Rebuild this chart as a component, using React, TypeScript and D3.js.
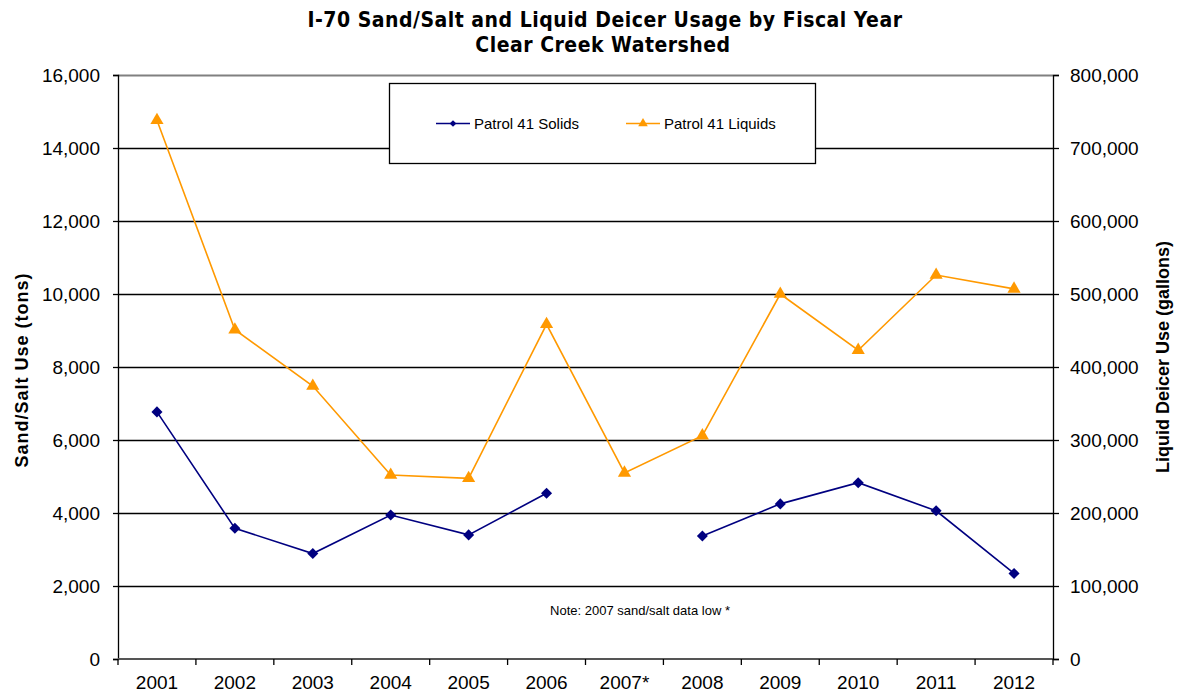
import React, { useEffect, useRef } from 'react';
import * as d3 from 'd3';

const years = ['2001', '2002', '2003', '2004', '2005', '2006', '2007*', '2008', '2009', '2010', '2011', '2012'];
// Patrol 41 Solids (tons), 2007 missing
const solids: (number | null)[] = [6770, 3580, 2890, 3945, 3400, 4540, null, 3370, 4250, 4830, 4060, 2345];
// Patrol 41 Liquids (gallons)
const liquids: number[] = [738000, 451000, 374000, 252000, 247500, 458500, 255000, 306000, 500000, 423000, 526000, 507000];
const leftTicks = [0, 2000, 4000, 6000, 8000, 10000, 12000, 14000, 16000];
const rightTicks = [0, 100000, 200000, 300000, 400000, 500000, 600000, 700000, 800000];

const W = 1179;
const H = 694;
const NAVY = '#000080';
const ORANGE = '#FF9900';
const FONT = 'Arial, "Liberation Sans", sans-serif';

const App = () => {
  const ref = useRef<SVGSVGElement>(null);

  useEffect(() => {
    const svg = d3.select(ref.current);
    svg.selectAll('*').remove();

    const margin = { top: 75, right: 126, bottom: 35, left: 118 };
    const x = d3.scaleBand().domain(years).range([margin.left, W - margin.right]);
    const yL = d3.scaleLinear().domain([0, 16000]).range([H - margin.bottom, margin.top]);
    const yR = d3.scaleLinear().domain([0, 800000]).range([H - margin.bottom, margin.top]);
    const cx = (d: string) => (x(d) as number) + x.bandwidth() / 2;
    const x0 = margin.left;
    const x1 = W - margin.right;

    svg.append('rect').attr('width', W).attr('height', H).attr('fill', '#fff');

    // Title
    const title = svg.append('text')
      .attr('text-anchor', 'middle')
      .style('font-family', '"DejaVu Sans Condensed", "DejaVu Sans", sans-serif')
      .style('font-weight', 'bold')
      .style('font-size', '21px')
      .style('letter-spacing', '0.5px');
    title.append('tspan').attr('x', 605).attr('y', 27).text('I-70 Sand/Salt and Liquid Deicer Usage by Fiscal Year');
    title.append('tspan').attr('x', 603).attr('y', 52).text('Clear Creek Watershed');

    // Gridlines
    svg.append('g')
      .selectAll('line')
      .data(leftTicks.filter(t => t > 0))
      .enter()
      .append('line')
      .attr('x1', x0)
      .attr('x2', x1)
      .attr('y1', d => Math.round(yL(d)) + 0.5)
      .attr('y2', d => Math.round(yL(d)) + 0.5)
      .attr('stroke', d => (d === 16000 ? '#808080' : '#000'))
      .attr('stroke-width', d => (d === 16000 ? 2 : 1.3));

    // Left axis
    const gl = svg.append('g').attr('transform', `translate(${x0},0)`)
      .call(d3.axisLeft(yL).tickValues(leftTicks).tickFormat(d3.format(',')).tickSize(5).tickPadding(13));
    gl.select('.domain').attr('stroke', '#000').attr('stroke-width', 1.3);
    gl.selectAll('.tick line').attr('stroke', '#000').attr('stroke-width', 1.3);
    gl.selectAll('text').style('font-family', FONT).style('font-size', '19px').attr('fill', '#000');

    // Right axis
    const gr = svg.append('g').attr('transform', `translate(${x1},0)`)
      .call(d3.axisRight(yR).tickValues(rightTicks).tickFormat(d3.format(',')).tickSize(6).tickPadding(11));
    gr.select('.domain').attr('stroke', '#000').attr('stroke-width', 1.3);
    gr.selectAll('.tick line').attr('stroke', '#000').attr('stroke-width', 1.3);
    gr.selectAll('text').style('font-family', FONT).style('font-size', '19px').attr('fill', '#000');

    // Bottom axis: category boundary ticks
    const yb = H - margin.bottom;
    svg.append('line').attr('x1', x0).attr('x2', x1).attr('y1', yb).attr('y2', yb)
      .attr('stroke', '#555').attr('stroke-width', 2);
    const bounds = years.map(d => x(d) as number).concat([x1]);
    svg.append('g').selectAll('line').data(bounds).enter().append('line')
      .attr('x1', d => d).attr('x2', d => d).attr('y1', yb).attr('y2', yb + 6)
      .attr('stroke', '#000').attr('stroke-width', 1.3);
    svg.append('g').selectAll('text').data(years).enter().append('text')
      .attr('x', d => cx(d))
      .attr('y', 689)
      .attr('text-anchor', 'middle')
      .style('font-family', FONT)
      .style('font-size', '19px')
      .text(d => d);

    // Axis titles
    svg.append('text')
      .attr('transform', 'translate(28,370) rotate(-90)')
      .attr('text-anchor', 'middle')
      .style('font-family', FONT)
      .style('font-weight', 'bold')
      .style('font-size', '18px')
      .style('letter-spacing', '1px')
      .text('Sand/Salt Use (tons)');
    svg.append('text')
      .attr('transform', 'translate(1169,357) rotate(-90)')
      .attr('text-anchor', 'middle')
      .style('font-family', FONT)
      .style('font-weight', 'bold')
      .style('font-size', '18px')
      .text('Liquid Deicer Use (gallons)');

    // Note
    svg.append('text')
      .attr('x', 640)
      .attr('y', 615)
      .attr('text-anchor', 'middle')
      .style('font-family', FONT)
      .style('font-size', '13px')
      .text('Note: 2007 sand/salt data low *');

    // Liquids series
    const liqLine = d3.line<number>()
      .x((_, i) => cx(years[i]))
      .y(d => yR(d));
    svg.append('path').datum(liquids).attr('d', liqLine)
      .attr('fill', 'none').attr('stroke', ORANGE).attr('stroke-width', 1.6);
    const tri = d3.symbol().type(d3.symbolTriangle).size(75);
    svg.append('g').selectAll('path').data(liquids).enter().append('path')
      .attr('d', tri)
      .attr('transform', (d, i) => `translate(${cx(years[i])},${yR(d)})`)
      .attr('fill', ORANGE);

    // Solids series
    const solLine = d3.line<number | null>()
      .defined(d => d !== null)
      .x((_, i) => cx(years[i]))
      .y(d => yL(d as number));
    svg.append('path').datum(solids).attr('d', solLine)
      .attr('fill', 'none').attr('stroke', NAVY).attr('stroke-width', 1.6);
    const solidPts = solids
      .map((v, i) => ({ year: years[i], v }))
      .filter(p => p.v !== null);
    const dia = d3.symbol().type(d3.symbolDiamond2).size(78);
    svg.append('g').selectAll('path').data(solidPts).enter()
      .append('path')
      .attr('d', dia)
      .attr('transform', p => `translate(${cx(p.year)},${yL(p.v as number)})`)
      .attr('fill', NAVY);

    // Legend
    const lg = svg.append('g');
    lg.append('rect').attr('x', 389.5).attr('y', 83.5).attr('width', 426).attr('height', 80)
      .attr('fill', '#fff').attr('stroke', '#000').attr('stroke-width', 1.3);
    const items = [
      { label: 'Patrol 41 Solids', color: NAVY, x: 436, sym: d3.symbol().type(d3.symbolDiamond2).size(28) },
      { label: 'Patrol 41 Liquids', color: ORANGE, x: 626, sym: d3.symbol().type(d3.symbolTriangle).size(40) },
    ];
    items.forEach(it => {
      lg.append('line').attr('x1', it.x).attr('x2', it.x + 34).attr('y1', 123.5).attr('y2', 123.5)
        .attr('stroke', it.color).attr('stroke-width', 1.5);
      lg.append('path').attr('d', it.sym).attr('transform', `translate(${it.x + 17},123.5)`).attr('fill', it.color);
      lg.append('text').attr('x', it.x + 38).attr('y', 128.5)
        .style('font-family', FONT).style('font-size', '15px').text(it.label);
    });
  }, []);

  return (
    <svg ref={ref} width={W} height={H} style={{ position: 'absolute', left: 0, top: 0, display: 'block' }} />
  );
};

export default App;
